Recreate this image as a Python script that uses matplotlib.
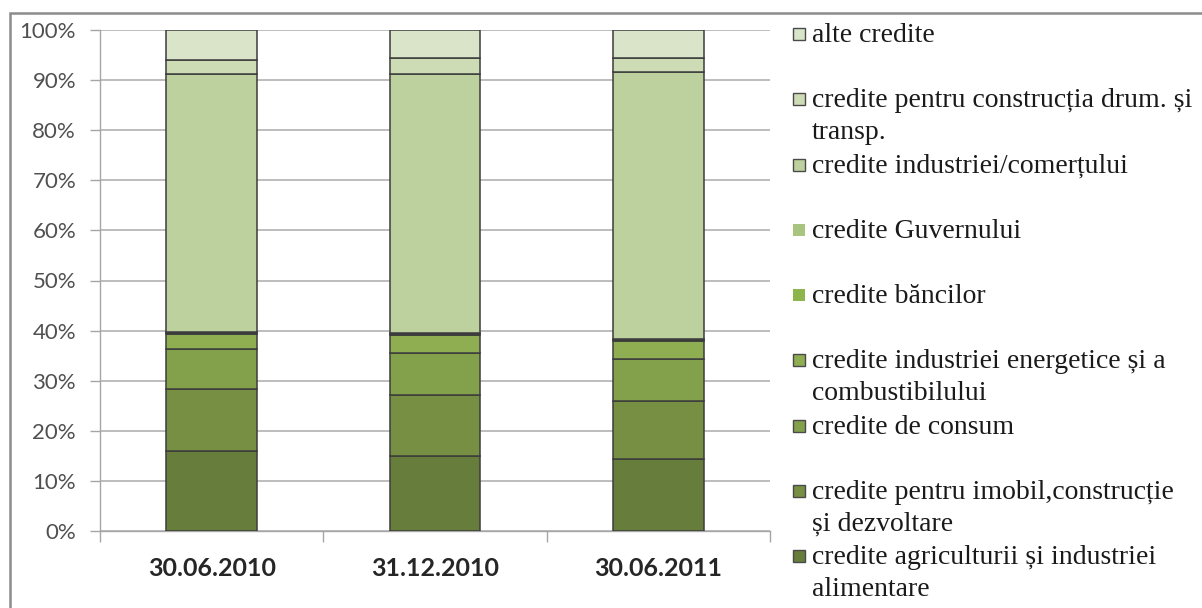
import matplotlib.pyplot as plt
from matplotlib.patches import Rectangle
import numpy as np

# dates on the x axis
dates = ["30.06.2010", "31.12.2010", "30.06.2011"]

# shares (%) of each credit type, bottom to top
agricultura = [16.0, 15.0, 14.4]
imobil = [12.3, 12.2, 11.6]
consum = [8.0, 8.4, 8.35]
energetice = [3.1, 3.6, 3.65]
banci = [0.2, 0.2, 0.2]
guvern = [0.1, 0.1, 0.1]
industrie_comert = [51.56, 51.8, 53.4]
drumuri = [2.74, 3.2, 2.7]
alte = [6.0, 5.5, 5.6]

series = [agricultura, imobil, consum, energetice, banci, guvern,
          industrie_comert, drumuri, alte]
labels = ["credite agriculturii și industriei\nalimentare",
          "credite pentru imobil,construcție\nși dezvoltare",
          "credite de consum",
          "credite industriei energetice și a\ncombustibilului",
          "credite băncilor",
          "credite Guvernului",
          "credite industriei/comerțului",
          "credite pentru construcția drum. și\ntransp.",
          "alte credite"]
colors = ["#677d3b", "#778f43", "#83a04a", "#8fae52", "#8db54b",
          "#a8c47e", "#bdd19e", "#cedcb5", "#d9e4c9"]

W, H = 1202, 608
fig = plt.figure(figsize=(W / 100, H / 100), dpi=100, facecolor="white")
ax = fig.add_axes([100 / W, 1 - 531 / H, 670 / W, 501 / H])

x = np.arange(len(dates))
bottom = np.zeros(len(dates))
for vals, col in zip(series, colors):
    ax.bar(x, vals, 0.405, bottom=bottom, color=col, edgecolor="#3c3c3c",
           linewidth=1.1, zorder=3)
    bottom += np.array(vals)

# axes styling, Excel look
ax.set_xlim(-0.5, 2.5)
ax.set_ylim(0, 100)
ax.set_yticks(np.arange(0, 101, 10))
ax.set_yticklabels([f"{v}%" for v in range(0, 101, 10)],
                   family="Lato", fontsize=16, color="#505050")
ax.tick_params(axis="y", length=7.2, width=1.0, color="#a6a6a6", pad=10)
ax.grid(axis="y", color="#b8b8b8", linewidth=1.3, zorder=0)
ax.set_axisbelow(True)

ax.set_xticks(x)
ax.set_xticklabels(dates, family="Lato", fontsize=18, fontweight="bold",
                   color="#262626")
ax.tick_params(axis="x", length=0, pad=19)
ax.set_xticks([-0.5, 0.5, 1.5, 2.5], minor=True)
ax.tick_params(axis="x", which="minor", length=8, width=1.0, color="#a6a6a6")

for s in ["top", "right"]:
    ax.spines[s].set_visible(False)
ax.spines["left"].set_color("#a6a6a6")
ax.spines["bottom"].set_color("#a6a6a6")
ax.spines["left"].set_linewidth(1.0)
ax.spines["bottom"].set_linewidth(1.0)

# legend drawn by hand, entries in reverse order with equal slots
for i, (lab, col) in enumerate(zip(labels[::-1], colors[::-1])):
    yc = 34 + i * 65.25
    edge = "none" if "Guvern" in lab or "băncilor" in lab else "#4a4a4a"
    fig.patches.append(Rectangle(((793) / W, 1 - (yc + 6) / H), 12 / W, 12 / H,
                                 transform=fig.transFigure, facecolor=col,
                                 edgecolor=edge, linewidth=1.0))
    fig.text(812 / W, 1 - (yc - 11) / H, lab, family="Liberation Serif",
             fontsize=20, va="top", ha="left", color="#1a1a1a",
             linespacing=1.38)

# chart frame
fig.patches.append(Rectangle((10 / W, -0.1), 1.2, 1.1 - 13 / H,
                             transform=fig.transFigure, facecolor="none",
                             edgecolor="#8c8c8c", linewidth=1.8))

plt.savefig("out.png", dpi=100)
